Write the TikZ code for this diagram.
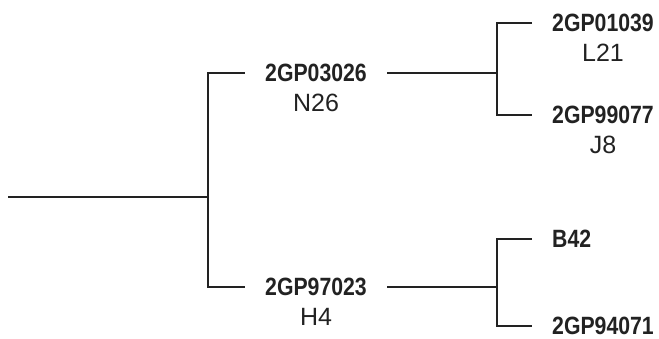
\documentclass[tikz,border=0pt]{standalone}
\usepackage{fontspec}
\setmainfont{Liberation Sans}
\newfontfamily\idfont{Liberation Sans}[FakeStretch=0.85]
\usepackage{tikz}
\usetikzlibrary{positioning}
\definecolor{treeline}{HTML}{222222}

\begin{document}
\begin{tikzpicture}[x=1pt,y=-1pt,
    idbox/.style={font=\idfont\bfseries\fontsize{25}{29}\selectfont, text=treeline, inner xsep=20pt, inner ysep=0pt},
    subname/.style={font=\fontsize{25}{29}\selectfont, text=treeline, inner sep=0pt},
    branch/.style={treeline, line width=1.1pt}]
  \useasboundingbox (0,0) rectangle (659,338);
  % generation 1
  \coordinate (root) at (8,197);
  \coordinate (j1) at (208,197);
  \node[idbox] (p1) at (316,73) {2GP03026};
  \node[subname, below=12pt of p1] (p1s) {N26};
  \node[idbox] (p2) at (316,287) {2GP97023};
  \node[subname, below=12pt of p2] (p2s) {H4};
  % generation 2
  \coordinate (j2) at (497,73);
  \coordinate (j3) at (497,287);
  \node[idbox, anchor=west] (g1) at (532,23) {2GP01039};
  \node[subname, below=12pt of g1] (g1s) {L21};
  \node[idbox, anchor=west] (g2) at (532,115) {2GP99077};
  \node[subname, below=12pt of g2] (g2s) {J8};
  \node[idbox, anchor=west] (g3) at (532,239) {B42};
  \node[idbox, anchor=west] (g4) at (532,326) {2GP94071};
  % lines
  \draw[branch] (root) -- (j1);
  \draw[branch] (p1.west) -| (j1) |- (p2.west);
  \draw[branch] (p1.east) -- (j2);
  \draw[branch] (p2.east) -- (j3);
  \draw[branch] (g1.west) -| (j2) |- (g2.west);
  \draw[branch] (g3.west) -| (j3) |- (g4.west);
\end{tikzpicture}
\end{document}
